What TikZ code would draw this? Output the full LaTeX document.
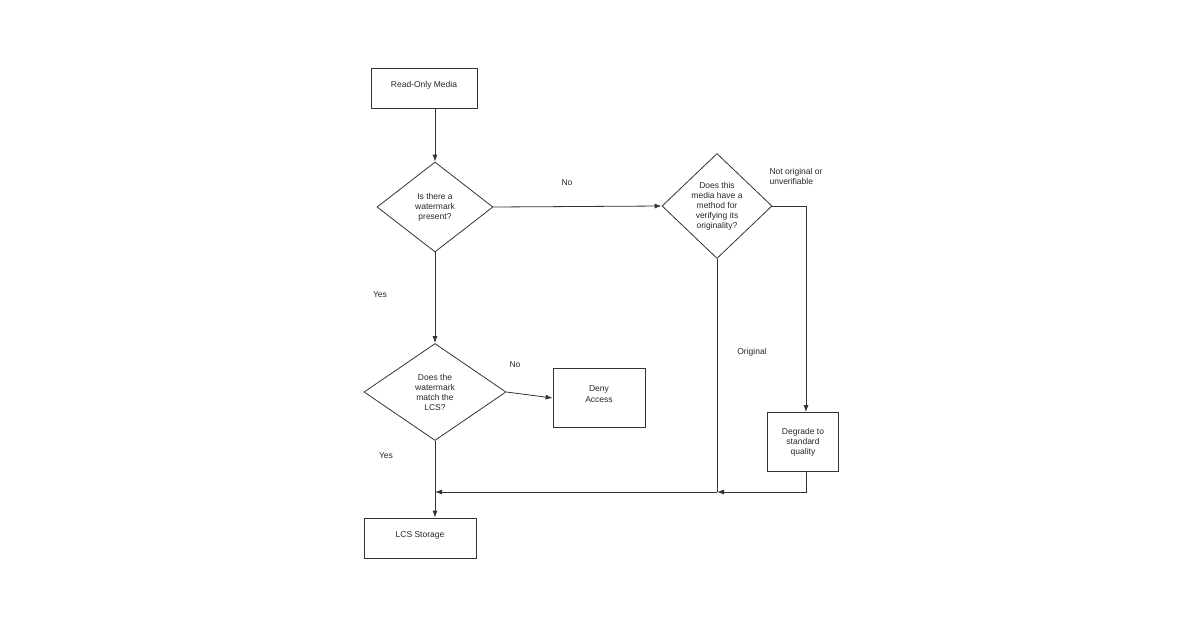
\documentclass[tikz,border=0pt]{standalone}
\usepackage{fontspec}
\setmainfont{Liberation Sans}
\usetikzlibrary{shapes.geometric,arrows.meta}
\begin{document}
\begin{tikzpicture}[x=1pt,y=-1pt,
  every node/.style={font=\fontsize{8.5}{10}\selectfont, align=center, text=black!85},
  box/.style={draw=black!80, line width=0.8pt, rectangle, inner sep=0pt},
  dia/.style={draw=black!80, line width=0.8pt, diamond, inner sep=0pt},
  lbl/.style={inner sep=1pt},
  ln/.style={draw=black!80, line width=0.8pt},
  arr/.style={ln, -{Latex[length=7pt,width=5pt]}}]
\useasboundingbox (0,0) rectangle (1200,630);
\node[box, minimum width=106pt, minimum height=40pt] (rom) at (424,88) {\raisebox{8pt}{Read-Only Media}};
\node[dia, minimum width=116pt, minimum height=90pt] (d1) at (435,207) {Is there a\\watermark\\present?};
\node[dia, minimum width=110pt, minimum height=105pt] (d2) at (717,206) {Does this\\media have a\\method for\\verifying its\\originality?};
\node[dia, minimum width=142pt, minimum height=97pt] (d3) at (435,392) {Does the\\watermark\\match the\\LCS?};
\node[box, minimum width=92pt, minimum height=59pt] (deny) at (599,398) {\raisebox{8pt}{\shortstack{Deny\\Access}}};
\node[box, minimum width=71pt, minimum height=59pt] (deg) at (803,442) {Degrade to\\standard\\quality};
\node[box, minimum width=112pt, minimum height=40pt] (lcs) at (420,538) {\raisebox{6pt}{LCS Storage}};
\coordinate (c1) at (806,206);
\coordinate (c2) at (806,492);
\coordinate (c3) at (717,492);
\coordinate (c4) at (435,492);
\draw[arr] (rom.south -| d1.north) -- (d1.north);
\draw[arr] (d1.east) -- (d2.west);
\draw[arr] (d1.south) -- (d3.north);
\draw[arr] (d3.east) -- (deny.west);
\draw[arr] (d3.south) -- (lcs.north -| d3.south);
\draw[arr] (d2.east) -- (c1) -- (deg.north -| c1);
\draw[arr] (deg.south -| c2) -- (c2) -- (c3);
\draw[ln] (d2.south) -- (c3);
\draw[arr] (c3) -- (c4);
\node[lbl] (tno1) at (567,183) {No};
\node[lbl, align=left] (tnot) at (796,176) {Not original or\\unverifiable};
\node[lbl] (torig) at (752,352) {Original};
\node[lbl] (tyes1) at (380,295) {Yes};
\node[lbl] (tno2) at (515,365) {No};
\node[lbl] (tyes2) at (386,456) {Yes};
\end{tikzpicture}
\end{document}
